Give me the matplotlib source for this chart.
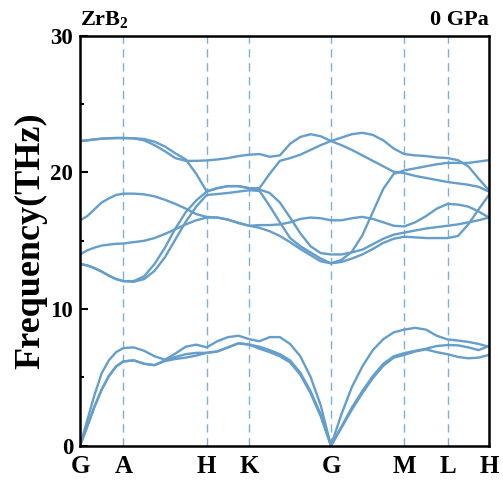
from matplotlib import pyplot as plt
import numpy as np

# high-symmetry points along the path and k-points per segment
labels = ["G", "A", "H", "K", "G", "M", "L", "H"]
kpos = [0.0, 0.433, 1.267, 1.693, 2.51, 3.243, 3.677, 4.09]
nseg = [6, 8, 4, 8, 7, 4, 4]

# phonon branches (THz), one value per k-point
a1 = [0, 1.4, 2.85, 4.1, 5.1, 5.8, 6.17,
      6.25, 6.0, 5.9, 6.2, 6.35, 6.45, 6.6, 6.8,
      6.9, 7.2, 7.5, 7.4,
      7.1, 6.85, 6.55, 6.1, 5.2, 3.85, 2.15, 0,
      1.3, 2.65, 3.85, 4.95, 5.85, 6.45, 6.65,
      6.9, 7.05, 6.85, 6.7,
      6.5, 6.4, 6.45, 6.65]
a2 = [0, 1.4, 2.85, 4.1, 5.1, 5.8, 6.17,
      6.25, 6.0, 5.9, 6.25, 6.5, 6.7, 6.8, 6.8,
      6.9, 7.2, 7.5, 7.4,
      7.25, 7.0, 6.7, 6.25, 5.35, 4.0, 2.3, 0,
      1.4, 2.8, 4.0, 5.1, 6.0, 6.55, 6.78,
      6.95, 7.1, 7.3, 7.37,
      7.35, 7.2, 7.0, 7.3]
a3 = [0, 1.85, 3.7, 5.3, 6.25, 6.85, 7.15,
      7.2, 6.95, 6.55, 6.3, 6.75, 7.25, 7.4, 7.2,
      7.65, 7.95, 8.05, 7.8,
      7.65, 7.95, 7.95, 7.45, 6.55, 5.05, 2.95, 0,
      2.3, 4.3, 5.8, 7.0, 7.8, 8.3, 8.5,
      8.63, 8.5, 8.05, 7.78,
      7.7, 7.6, 7.45, 7.25]
o1 = [13.3, 13.2, 13.0, 12.75, 12.45, 12.2, 12.05,
      12.0, 12.2, 12.8, 13.8, 15.1, 16.4, 17.5, 18.35,
      18.42, 18.5, 18.6, 18.7,
      18.65, 17.55, 16.35, 15.2, 14.6, 14.15, 13.7, 13.35,
      13.6, 14.2, 15.4, 17.1, 18.8, 19.9, 20.15,
      20.3, 20.45, 20.6, 20.7,
      20.7, 20.7, 20.8, 20.9]
o2 = [13.3, 13.2, 13.0, 12.75, 12.45, 12.2, 12.05,
      12.05, 12.4, 13.3, 14.5, 15.9, 17.1, 17.95, 18.6,
      18.85, 19.0, 19.0, 18.85,
      18.75, 18.5, 17.8, 16.7, 15.55, 14.6, 14.1, 14.0,
      14.0, 14.15, 14.35, 14.75, 15.15, 15.45, 15.6,
      15.75, 15.9, 16.0, 16.1,
      16.2, 16.35, 16.5, 16.7]
o3 = [14.0, 14.3, 14.5, 14.65, 14.72, 14.78, 14.8,
      14.9, 15.0, 15.2, 15.5, 15.85, 16.2, 16.5, 16.7,
      16.7, 16.55, 16.3, 16.1,
      15.95, 15.7, 15.35, 14.9, 14.4, 13.95, 13.5, 13.35,
      13.45, 13.7, 14.0, 14.4, 14.85, 15.15, 15.3,
      15.25, 15.2, 15.2, 15.2,
      15.35, 16.2, 17.3, 18.35]
o4 = [16.5, 16.8, 17.3, 17.8, 18.1, 18.35, 18.45,
      18.45, 18.4, 18.25, 18.0, 17.7, 17.35, 16.95, 16.75,
      16.7, 16.55, 16.3, 16.1,
      16.15, 16.15, 16.2, 16.35, 16.6, 16.7, 16.65, 16.5,
      16.5, 16.65, 16.75, 16.6, 16.35, 16.1, 16.05,
      16.35, 16.8, 17.35, 17.7,
      17.65, 17.5, 17.15, 16.7]
o5 = [22.3, 22.35, 22.42, 22.47, 22.5, 22.52, 22.52,
      22.5, 22.35, 22.0, 21.55, 21.05, 20.85, 20.85, 20.88,
      20.95, 21.05, 21.2, 21.3,
      21.35, 21.15, 21.25, 22.1, 22.6, 22.8, 22.65, 22.3,
      22.0, 21.65, 21.25, 20.85, 20.45, 20.05, 19.95,
      19.75, 19.6, 19.45, 19.3,
      19.2, 19.1, 18.95, 18.6]
o6 = [22.3, 22.35, 22.42, 22.47, 22.5, 22.52, 22.52,
      22.5, 22.45, 22.25, 21.9, 21.4, 20.95, 19.9, 18.62,
      18.85, 19.0, 19.0, 18.85,
      18.85, 19.9, 20.85, 21.05, 21.3, 21.65, 22.0, 22.3,
      22.55, 22.8, 22.9, 22.75, 22.35, 21.75, 21.35,
      21.25, 21.2, 21.1, 21.05,
      20.9, 20.45, 19.55, 18.7]
bands = [a1, a2, a3, o1, o2, o3, o4, o5, o6]

k = [kpos[0]]
for i, n in enumerate(nseg):
    k += list(np.linspace(kpos[i], kpos[i + 1], n + 1)[1:])
k = np.array(k)

plt.rcParams["font.family"] = ["Liberation Serif", "DejaVu Serif"]
plt.rcParams["font.weight"] = "bold"
plt.rcParams["mathtext.fontset"] = "custom"
plt.rcParams["mathtext.rm"] = "Liberation Serif:bold"
plt.rcParams["mathtext.it"] = "Liberation Serif:bold"
plt.rcParams["mathtext.bf"] = "Liberation Serif:bold"

fig = plt.figure(figsize=(5.03, 4.84), dpi=100)
ax = fig.add_axes([0.159, 0.079, 0.813, 0.847])

for xv in kpos[1:-1]:
    ax.axvline(xv, color="#7ab0de", lw=1.0, ls=(0, (6, 4)), zorder=1)
for b in bands:
    ax.plot(k, b, color="#659ecb", lw=1.7, zorder=2)

ax.set_xlim(kpos[0], kpos[-1])
ax.set_ylim(0, 30)
ax.set_xticks(kpos)
ax.set_xticklabels(labels, fontsize=18, fontweight="bold")
ax.tick_params(axis="x", length=0, pad=7)
ax.set_yticks([0, 10, 20, 30])
ax.set_yticks([5, 15, 25], minor=True)
ax.tick_params(axis="y", which="major", direction="in", length=6, width=1.5,
               labelsize=16.5, pad=5)
ax.tick_params(axis="y", which="minor", direction="in", length=3, width=1.5)
for t in ax.get_yticklabels():
    t.set_fontweight("bold")
ax.set_ylabel("Frequency(THz)", fontsize=26, fontweight="bold", labelpad=2)
for s in ax.spines.values():
    s.set_linewidth(1.8)

ax.text(0.0, 1.015, "ZrB$_2$", transform=ax.transAxes, fontsize=16,
        fontweight="bold", ha="left", va="bottom")
ax.text(1.0, 1.015, "0 GPa", transform=ax.transAxes, fontsize=16,
        fontweight="bold", ha="right", va="bottom")

plt.savefig("out.png", dpi=100)
